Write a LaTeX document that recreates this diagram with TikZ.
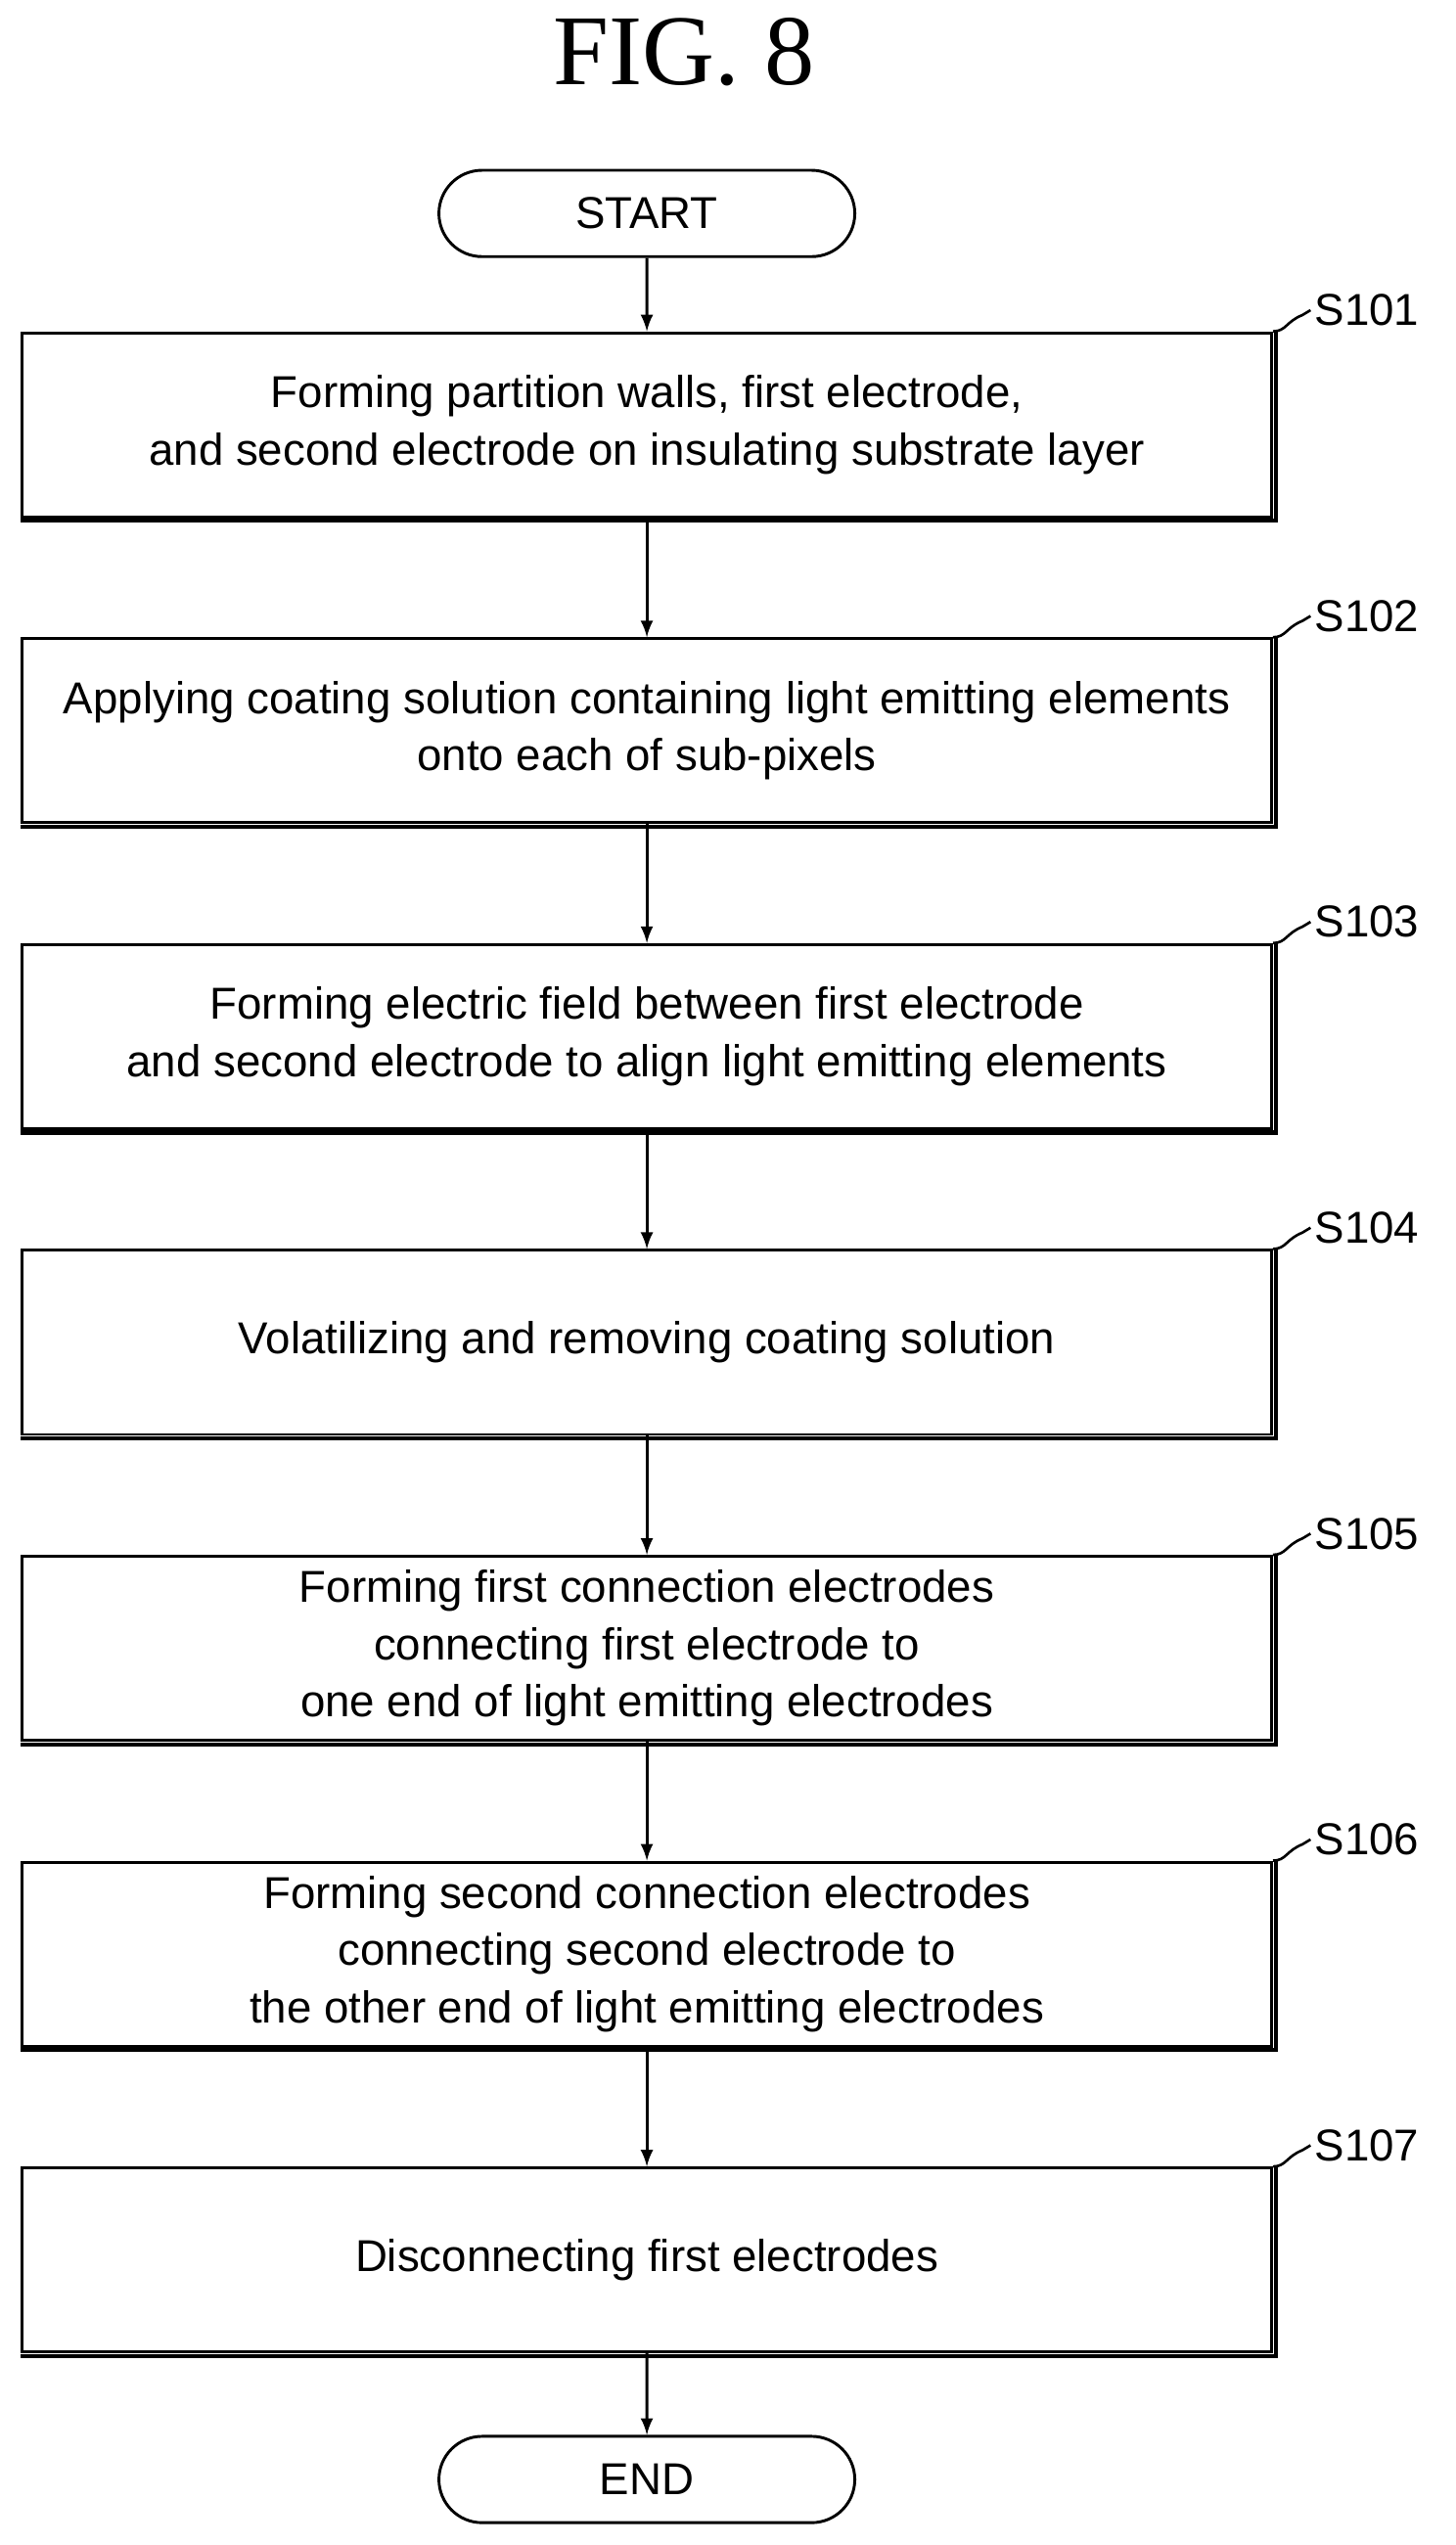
\documentclass[tikz,border=0pt]{standalone}
\usepackage{fontspec}
\setmainfont{Liberation Sans}
\newfontfamily\figfont{Liberation Serif}
\usetikzlibrary{positioning}
\usetikzlibrary{shapes,arrows}
\tikzset{
	procbox/.style={
		draw,
		rectangle,
		align=center,
		minimum width=15.34cm,
		minimum height=2.26cm,
		line width=1pt,
		font=\fontsize{15.6}{20}\selectfont
	},
	term/.style={
		draw,
		rounded rectangle,
		minimum width=5.34cm,
		minimum height=1.06cm,
		line width=1pt,
		font=\fontsize{15.6}{18}\selectfont
	}
}
\begin{document}
\begin{tikzpicture}[x=0.02cm,y=-0.02cm,node distance=1.46cm]
				\useasboundingbox (0,0) rectangle (893,1562);
				\node[font=\figfont\fontsize{35}{35}\selectfont] (title) at (420,32) {FIG. 8};
				\node[term] (start) at (397,131) {START};
				\node[procbox, below=0.9cm of start] (S1) {Forming partition walls, first electrode,\\ and second electrode on insulating substrate layer};
				\node[procbox, below=of S1] (S2) {Applying coating solution containing light emitting elements\\ onto each of sub-pixels};
				\node[procbox, below=of S2] (S3) {Forming electric field between first electrode\\ and second electrode to align light emitting elements};
				\node[procbox, below=of S3] (S4) {Volatilizing and removing coating solution};
				\node[procbox, below=of S4] (S5) {Forming first connection electrodes\\ connecting first electrode to\\ one end of light emitting electrodes};
				\node[procbox, below=of S5] (S6) {Forming second connection electrodes\\ connecting second electrode to\\ the other end of light emitting electrodes};
				\node[procbox, below=of S6] (S7) {Disconnecting first electrodes};
				\node[term, below=1.0cm of S7] (end) {END};
				
				\draw[-latex, line width=1pt] (start) -- (S1);
				\foreach \a/\b in {S1/S2,S2/S3,S3/S4,S4/S5,S5/S6,S6/S7} {
					\draw[-latex, line width=1pt] (\a) -- (\b);
				}
				\draw[-latex, line width=1pt] (S7) -- (end);
				
				% shadow and step labels
				\foreach \n/\t in {S1/S101,S2/S102,S3/S103,S4/S104,S5/S105,S6/S106,S7/S107} {
					\draw[line width=1.4pt] ([xshift=0.9pt]\n.north east) -- ([xshift=0.9pt,yshift=-0.9pt]\n.south east) -- ([yshift=-0.9pt]\n.south west);
					\draw[line width=.9pt] (\n.north east) .. controls ++(8,0) and ++(-10,4) .. ++(18,-10) -- ++(5,-3) node[right, inner sep=1pt, font=\fontsize{15.6}{18}\selectfont]{\t};
				}
			\end{tikzpicture}
\end{document}
